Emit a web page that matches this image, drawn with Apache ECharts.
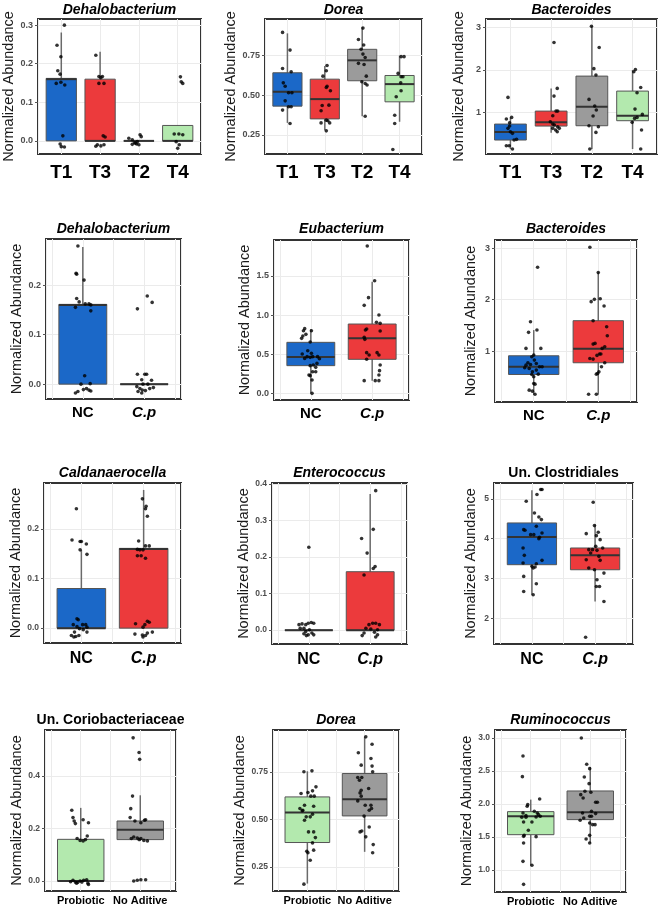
<!DOCTYPE html>
<html><head><meta charset="utf-8">
<script src="https://cdn.jsdelivr.net/npm/echarts@6/dist/echarts.min.js"></script>
<style>html,body{margin:0;padding:0;background:#fff}#c{width:666px;height:909px}</style>
</head><body><div id="c"></div><script>
// ---------------- DATA ----------------
// boxes: [lower whisker, Q1, median, Q3, upper whisker]; values: jittered points; jitter: horizontal offset (category units)
const p1Title = 'Dehalobacterium';
const p1Categories = ['T1','T3','T2','T4'];
const p1YTicks = ['0.0','0.1','0.2','0.3'];
const p1Boxes = [[0,0,0.160,0.162,0.281],[0,0,0,0.160,0.231],[0,0,0,0,0],[0,0,0,0.040,0.040]];
const p1Values = [
  [0.300,0.248,0.218,0.182,0.173,0.149,0.152,0.145,0.013,-0.008,-0.016,-0.015],
  [0.222,0.167,0.167,0.164,0.149,0.149,0.013,0.010,-0.010,-0.013,-0.010,-0.014],
  [0.007,0.003,-0.006,-0.002,0.016,0.011,-0.008,-0.010,-0.009,-0.004],
  [0.166,0.153,0.149,0.018,0.018,0.016,-0.002,-0.010,-0.019]];
const p1Jitter = [
  [.08,-.11,-.01,-.09,-.03,-.13,-.01,.09,.04,-.03,.08,0],
  [-.11,-.03,.06,.02,-.03,.10,.08,.13,-.07,.02,.10,-.11],
  [-.26,-.17,-.09,-.04,.03,.06,-.06,0,-.17,-.11],
  [.07,.09,.13,-.09,.03,.13,-.04,.04,0]];

const p2Title = 'Dorea';
const p2Categories = ['T1','T3','T2','T4'];
const p2YTicks = ['0.25','0.50','0.75'];
const p2Boxes = [[0.326,0.431,0.521,0.640,0.887],[0.280,0.351,0.475,0.600,0.682],[0.368,0.590,0.718,0.787,0.925],[0.333,0.458,0.569,0.623,0.747]];
const p2Values = [
  [0.893,0.782,0.667,0.646,0.577,0.556,0.515,0.515,0.464,0.427,0.427,0.406,0.322],
  [0.686,0.653,0.619,0.556,0.548,0.527,0.435,0.437,0.402,0.343,0.339,0.326,0.326,0.276],
  [0.920,0.849,0.814,0.787,0.757,0.736,0.699,0.692,0.619,0.584,0.573,0.563,0.368],
  [0.741,0.741,0.636,0.615,0.615,0.577,0.527,0.490,0.374,0.322,0.159]];
const p2Jitter = [
  [-.13,.07,-.13,.10,-.11,-.06,.03,.12,-.06,.03,.10,-.13,.07],
  [.06,.04,-.05,.06,.04,.15,-.07,.11,-.10,.04,.08,-.10,.13,.04],
  [.02,-.10,.04,-.03,.02,.08,-.10,.05,.11,-.01,.08,.13,.08],
  [.04,.12,-.04,.04,.09,.03,.04,-.09,-.13,-.13,-.18]];

const p3Title = 'Bacteroides';
const p3Categories = ['T1','T3','T2','T4'];
const p3YTicks = ['1','2','3'];
const p3Boxes = [[0.137,0.349,0.537,0.725,0.882],[0.520,0.678,0.765,1.031,1.560],[0.137,0.686,1.133,1.855,3.030],[0.137,0.804,0.922,1.502,1.996]];
const p3Values = [
  [1.353,0.843,0.882,0.757,0.678,0.624,0.545,0.506,0.365,0.349,0.216,0.216,0.137],
  [2.647,1.565,1.384,1.031,1.031,0.922,0.780,0.725,0.702,0.663,0.584,0.624,0.545,0.624],
  [3.030,2.530,2.030,1.880,1.306,1.149,1.055,0.914,0.686,0.663,0.529,0.137],
  [2.012,1.957,1.588,1.463,1.078,0.953,0.882,0.859,0.765,0.584,0.137]];
const p3Jitter = [
  [-.06,-.10,.03,-.02,-.02,-.06,0,.05,.15,.09,-.10,-.03,.05],
  [.07,.15,.07,.12,.16,.04,-.02,.04,.08,.16,.11,.20,.15,.04],
  [-.01,.18,.05,.10,-.07,.07,.11,.03,-.07,.16,.10,-.05],
  [.07,.03,.20,.11,.06,.24,.11,.05,-.01,.22,.20]];

const p4Title = 'Dehalobacterium';
const p4Categories = ['NC','C.p'];
const p4YTicks = ['0.0','0.1','0.2'];
const p4Boxes = [[0,0,0.160,0.161,0.277],[0,0,0,0,0]];
const p4Values = [
  [0.279,0.224,0.222,0.210,0.173,0.166,0.155,0.162,0.162,0.160,0.148,0.017,0.0,0.001,-0.009,-0.012,-0.011,-0.015,-0.018,-0.014],
  [0.178,0.165,0.152,0.020,0.020,0.020,0.009,0.008,0.0,0.0,-0.005,-0.009,-0.012,-0.013,-0.009,-0.007,-0.015,-0.018]];
const p4Jitter = [
  [-.08,-.11,-.10,.02,-.10,-.06,-.12,.04,.10,.13,.13,.03,-.03,.12,.06,.10,.01,-.08,-.12,.13],
  [.05,.13,-.11,-.11,.01,.04,-.04,.12,-.02,.06,-.12,-.07,-.03,.02,.09,.15,-.10,-.04]];

const p5Title = 'Eubacterium';
const p5Categories = ['NC','C.p'];
const p5YTicks = ['0.0','0.5','1.0','1.5'];
const p5Boxes = [[0.0,0.354,0.464,0.652,0.818],[0.162,0.435,0.703,0.886,1.427]];
const p5Values = [
  [0.827,0.801,0.801,0.733,0.754,0.703,0.656,0.545,0.503,0.511,0.469,0.460,0.469,0.469,0.443,0.447,0.383,0.362,0.354,0.332,0.277,0.277,0.234,0.226,0.170,0.0],
  [1.883,1.440,1.223,1.125,1.001,0.908,0.895,0.797,0.822,0.810,0.716,0.690,0.520,0.490,0.520,0.490,0.435,0.362,0.290,0.234,0.162,0.162,0.162]];
const p5Jitter = [
  [-.10,-.12,.01,-.13,-.08,-.15,-.01,-.05,-.14,.01,-.06,-.01,.03,.11,.14,-.10,.10,.04,-.01,.08,.08,.03,-.03,-.01,.02,.02],
  [-.08,.04,-.06,-.13,.11,.07,.13,.13,-.09,-.11,-.13,-.12,-.09,-.05,.08,.11,-.09,.13,.12,.11,-.13,.05,.11]];

const p6Title = 'Bacteroides';
const p6Categories = ['NC','C.p'];
const p6YTicks = ['1','2','3'];
const p6Boxes = [[0.156,0.545,0.695,0.909,1.409],[0.156,0.773,1.045,1.591,2.532]];
const p6Values = [
  [2.630,1.571,1.409,1.364,1.052,1.052,0.922,0.890,0.825,0.773,0.760,0.727,0.740,0.695,0.695,0.675,0.662,0.630,0.597,0.552,0.545,0.500,0.370,0.357,0.240,0.221,0.162],
  [3.020,2.526,2.006,1.961,2.019,1.877,1.591,1.474,1.299,1.136,1.149,1.084,1.052,0.942,0.916,0.942,0.857,0.844,0.773,0.695,0.597,0.552,0.565,0.162,0.162]];
const p6Jitter = [
  [.06,-.05,.05,-.08,-.12,.11,0,-.03,.01,-.09,.04,-.12,-.05,.09,.13,-.14,-.07,.04,-.02,.07,-.03,0,0,.02,-.07,-.02,.02],
  [-.13,0,-.06,-.11,.03,.09,-.08,.13,.14,-.08,-.05,.10,.06,.04,-.02,.02,-.13,-.08,.10,.05,.01,-.03,-.01,-.15,-.03]];

const p7Title = 'Caldanaerocella';
const p7Categories = ['NC','C.p'];
const p7YTicks = ['0.0','0.1','0.2'];
const p7Boxes = [[0,0,0,0.080,0.158],[0,0,0.160,0.161,0.279]];
const p7Values = [
  [0.241,0.178,0.175,0.175,0.170,0.158,0.149,0.019,0.017,0.007,0.007,0.007,0.003,0.002,-0.001,-0.003,-0.008,-0.008,-0.015,-0.017,-0.015,-0.018],
  [0.261,0.246,0.241,0.226,0.176,0.166,0.166,0.159,0.158,0.158,0.146,0.146,0.141,0.009,0.014,0.012,0.007,0.002,-0.008,-0.012,-0.010,-0.014,-0.015,-0.018]];
const p7Jitter = [
  [-.08,-.15,-.02,0,.08,-.02,.09,-.07,-.05,-.13,.02,.07,-.07,.09,-.03,.03,-.11,.09,-.16,-.09,-.04,-.12],
  [-.02,.04,.03,.06,-.08,.03,.09,-.10,-.06,-.01,-.10,-.04,.03,-.13,.06,.09,.02,-.01,.14,-.14,.06,-.02,.03,-.01]];

const p8Title = 'Enterococcus';
const p8Categories = ['NC','C.p'];
const p8YTicks = ['0.0','0.1','0.2','0.3','0.4'];
const p8Boxes = [[0,0,0,0,0],[0,0,0,0.160,0.373]];
const p8Values = [
  [0.227,0.017,0.019,0.021,0.019,0.015,0.015,0.005,0.005,0.001,-0.004,-0.008,-0.013,-0.013,-0.010,-0.015],
  [0.382,0.276,0.251,0.211,0.174,0.169,0.151,0.019,0.019,0.015,0.015,0.005,0.003,0.001,-0.008,-0.006,-0.013,-0.015,-0.019]];
const p8Jitter = [
  [0,-.11,-.01,.04,.08,-.05,-.16,-.14,-.08,.01,-.05,.05,-.01,.08,-.08,-.04],
  [.09,.05,-.14,-.05,.08,.05,-.10,.04,.09,.15,-.02,-.07,.01,.12,-.10,.07,.12,-.13,.09]];

const p9Title = 'Un. Clostridiales';
const p9Categories = ['NC','C.p'];
const p9YTicks = ['2','3','4','5'];
const p9Boxes = [[2.588,3.345,4.042,4.395,5.218],[2.420,3.218,3.580,3.765,4.353]];
const p9Values = [
  [5.235,5.235,4.941,5.109,4.647,4.546,4.479,4.311,4.227,4.210,4.101,4.101,4.143,4.034,4.000,3.765,3.580,3.454,3.387,3.370,3.303,3.286,3.261,3.050,2.866,2.672,2.588],
  [4.916,4.328,4.126,4.160,4.076,3.975,3.807,3.765,3.723,3.723,3.706,3.639,3.555,3.471,3.454,3.261,3.218,3.134,2.966,2.798,2.798,2.420,1.521]];
const p9Jitter = [
  [.14,.16,-.09,.08,.04,.11,.15,.07,-.13,-.11,-.02,.03,.16,.12,.11,-.14,-.12,.16,-.14,.07,0,.05,.02,-.13,.07,-.13,.02],
  [-.03,-.01,-.14,.05,.02,.08,.01,.12,-.10,-.04,.03,-.07,.06,-.14,.08,-.10,-.01,.14,.03,.02,.07,.14,-.15]];

const p10Title = 'Un. Coriobacteriaceae';
const p10Categories = ['Probiotic','No Aditive'];
const p10YTicks = ['0.0','0.2','0.4'];
const p10Boxes = [[0,0,0,0.159,0.279],[0.153,0.158,0.196,0.229,0.327]];
const p10Values = [
  [0.270,0.242,0.229,0.219,0.234,0.222,0.162,0.155,0.153,0.172,0.158,0.003,-0.004,-0.005,0,0.003,0.005,-0.008,-0.008,-0.004,-0.013,-0.003],
  [0.546,0.490,0.464,0.324,0.276,0.242,0.229,0.222,0.232,0.234,0.168,0.164,0.162,0.155,0.153,0.158,0.162,0,0.003,0.005,0.005]];
const p10Jitter = [
  [-.15,-.13,-.11,-.09,.04,.13,-.06,-.01,.04,.11,.08,-.13,-.09,-.05,-.01,.05,.10,.12,-.07,.02,.13,-.17],
  [-.12,-.02,-.01,-.13,-.16,-.17,-.09,.01,.07,.09,-.11,-.05,.01,.06,.12,-.02,-.15,-.11,-.05,.01,.09]];

const p11Title = 'Dorea';
const p11Categories = ['Probiotic','No Aditive'];
const p11YTicks = ['0.25','0.50','0.75'];
const p11Boxes = [[0.163,0.379,0.537,0.619,0.754],[0.330,0.519,0.607,0.742,0.935]];
const p11Values = [
  [0.751,0.756,0.672,0.651,0.637,0.642,0.623,0.623,0.575,0.570,0.558,0.549,0.546,0.528,0.514,0.514,0.496,0.435,0.435,0.405,0.377,0.333,0.325,0.339,0.286,0.160],
  [0.935,0.896,0.851,0.821,0.786,0.781,0.751,0.721,0.721,0.707,0.654,0.663,0.640,0.623,0.598,0.575,0.575,0.558,0.549,0.518,0.461,0.440,0.435,0.409,0.368,0.325]];
const p11Jitter = [
  [-.06,.08,.15,.09,-.11,.01,.06,.12,-.05,.11,-.13,-.08,-.09,.09,.05,-.02,-.05,.02,.11,.14,.09,-.01,.01,.11,.05,-.06],
  [.02,.13,-.11,.11,-.06,.13,.14,-.12,-.05,-.09,-.06,.07,-.08,-.06,-.12,.01,.11,.12,.08,-.01,.08,-.05,-.08,.02,.15,.14]];

const p12Title = 'Ruminococcus';
const p12Categories = ['Probiotic','No Aditive'];
const p12YTicks = ['1.0','1.5','2.0','2.5','3.0'];
const p12Boxes = [[1.071,1.535,1.813,1.884,2.066],[1.409,1.763,1.874,2.197,2.561]];
const p12Values = [
  [2.727,2.414,2.076,1.990,1.965,1.864,1.798,1.823,1.889,1.864,1.838,1.813,1.803,1.798,1.727,1.727,1.601,1.525,1.510,1.505,1.409,1.131,1.071,0.783],
  [3.000,2.601,2.535,2.409,2.308,2.192,2.177,2.141,2.091,2.025,2.025,1.864,1.889,1.854,1.753,1.813,1.813,1.788,1.712,1.687,1.687,1.470,1.409,1.525]];
const p12Jitter = [
  [-.13,-.14,.15,-.05,-.06,-.13,-.15,-.08,.06,.11,.13,.16,.09,-.08,-.12,.02,-.04,-.11,-.12,.09,-.12,-.13,.02,-.12],
  [-.15,-.06,-.01,-.10,-.02,-.09,.01,-.16,-.12,.09,.12,-.13,.02,.09,-.17,-.01,.02,-.11,-.01,.04,.08,-.07,-.01,-.01]];

const yAxisTitle = 'Normalized Abundance';
const italicTitles = ['Dehalobacterium','Dorea','Bacteroides','Eubacterium','Caldanaerocella','Enterococcus','Ruminococcus'];
const italicCategories = ['C.p'];

// ---------------- STYLE / LAYOUT ----------------
const FONT = '"Liberation Sans", Arial, Helvetica, sans-serif';
const categoryColors = {T1:'#1b68c8', T3:'#ec3a3c', T2:'#9b9b9b', T4:'#b3e9ae', NC:'#1b68c8', 'C.p':'#ec3a3c', Probiotic:'#b3e9ae', 'No Aditive':'#9b9b9b'};
const BOX_WIDTH = 0.78;
const rowStyle = [
  {xFont:19, xMargin:9, titleY:10.5, yFont:9, nameGap:20},
  {xFont:15, xMargin:6, titleY:229, yFont:9, nameGap:17},
  {xFont:16, xMargin:8, titleY:473, yFont:8.5, nameGap:16},
  {xFont:11, xMargin:4, titleY:720, yFont:8.5, nameGap:18}
];
const layout = [
  {row:0,left:38, top:19, width:163,height:135,yMin:-0.034,yMax:0.316},
  {row:0,left:265,top:19, width:157,height:135,yMin:0.131, yMax:0.977},
  {row:0,left:486,top:19, width:171,height:135,yMin:0.02,  yMax:3.2},
  {row:1,left:46, top:239,width:135,height:160,yMin:-0.03, yMax:0.293},
  {row:1,left:274,top:240,width:135,height:160,yMin:-0.085,yMax:1.96},
  {row:1,left:495,top:240,width:142,height:162,yMin:0.01,  yMax:3.16},
  {row:2,left:44, top:483,width:137,height:160,yMin:-0.03, yMax:0.293},
  {row:2,left:272,top:483,width:135,height:161,yMin:-0.038,yMax:0.403},
  {row:2,left:494,top:483,width:139,height:161,yMin:1.35,  yMax:5.4},
  {row:3,left:45, top:730,width:131,height:161,yMin:-0.038,yMax:0.576},
  {row:3,left:273,top:730,width:126,height:161,yMin:0.124, yMax:0.971},
  {row:3,left:495,top:730,width:131,height:162,yMin:0.667, yMax:3.12}
];

const panels = [
  {title:p1Title, cats:p1Categories, ticks:p1YTicks, boxes:p1Boxes, values:p1Values, jitter:p1Jitter},
  {title:p2Title, cats:p2Categories, ticks:p2YTicks, boxes:p2Boxes, values:p2Values, jitter:p2Jitter},
  {title:p3Title, cats:p3Categories, ticks:p3YTicks, boxes:p3Boxes, values:p3Values, jitter:p3Jitter},
  {title:p4Title, cats:p4Categories, ticks:p4YTicks, boxes:p4Boxes, values:p4Values, jitter:p4Jitter},
  {title:p5Title, cats:p5Categories, ticks:p5YTicks, boxes:p5Boxes, values:p5Values, jitter:p5Jitter},
  {title:p6Title, cats:p6Categories, ticks:p6YTicks, boxes:p6Boxes, values:p6Values, jitter:p6Jitter},
  {title:p7Title, cats:p7Categories, ticks:p7YTicks, boxes:p7Boxes, values:p7Values, jitter:p7Jitter},
  {title:p8Title, cats:p8Categories, ticks:p8YTicks, boxes:p8Boxes, values:p8Values, jitter:p8Jitter},
  {title:p9Title, cats:p9Categories, ticks:p9YTicks, boxes:p9Boxes, values:p9Values, jitter:p9Jitter},
  {title:p10Title, cats:p10Categories, ticks:p10YTicks, boxes:p10Boxes, values:p10Values, jitter:p10Jitter},
  {title:p11Title, cats:p11Categories, ticks:p11YTicks, boxes:p11Boxes, values:p11Values, jitter:p11Jitter},
  {title:p12Title, cats:p12Categories, ticks:p12YTicks, boxes:p12Boxes, values:p12Values, jitter:p12Jitter}
];

function renderBox(params, api) {
  const x = api.value(0);
  const pMin = api.coord([x, api.value(1)]);
  const pQ1 = api.coord([x, api.value(2)]);
  const pMed = api.coord([x, api.value(3)]);
  const pQ3 = api.coord([x, api.value(4)]);
  const pMax = api.coord([x, api.value(5)]);
  const half = api.size([BOX_WIDTH, 0])[0] / 2;
  const color = api.visual('color');
  return {type:'group', children:[
    {type:'line', shape:{x1:pMin[0], y1:pMin[1], x2:pMax[0], y2:pMax[1]}, style:{stroke:'#6a6a6a', lineWidth:1.5}},
    {type:'rect', shape:{x:pQ1[0]-half, y:pQ3[1], width:2*half, height:Math.max(0, pQ1[1]-pQ3[1])},
      style:{fill:color, stroke:'#555', lineWidth:1}},
    {type:'line', shape:{x1:pMed[0]-half, y1:pMed[1], x2:pMed[0]+half, y2:pMed[1]}, style:{stroke:'#333', lineWidth:2}}
  ]};
}

const grids = [], xAxes = [], yAxes = [], series = [], graphics = [];
panels.forEach((p, k) => {
  const L = layout[k], R = rowStyle[L.row], n = p.cats.length;
  const tickVals = p.ticks.map(Number);
  const catIdx = p.cats.map((c, i) => i);
  grids.push({left:L.left, top:L.top, width:L.width, height:L.height, show:true,
    borderColor:'#333', borderWidth:2, backgroundColor:'#fff'});
  const richBase = {fontFamily:FONT, fontWeight:'bold', fontSize:R.xFont, color:'#000'};
  xAxes.push({type:'value', gridIndex:k, position:'bottom', min:-0.6, max:n-0.4,
    axisLine:{show:false, onZero:false}, axisTick:{show:false},
    splitLine:{show:true, lineStyle:{color:'#ebebeb', width:1}},
    axisLabel:{customValues:catIdx, margin:R.xMargin,
      fontFamily:FONT, fontWeight:'bold', fontSize:R.xFont, color:'#000',
      formatter: v => { const i = Math.round(v); if (Math.abs(v-i) > 1e-6 || i < 0 || i >= n) return '';
        const c = p.cats[i]; return italicCategories.includes(c) ? '{i|' + c + '}' : '{n|' + c + '}'; },
      rich:{n:Object.assign({}, richBase), i:Object.assign({fontStyle:'italic'}, richBase)}}
  });
  yAxes.push({type:'value', gridIndex:k, position:'left', min:L.yMin, max:L.yMax,
    axisLine:{show:false, onZero:false}, axisTick:{show:true, length:3, customValues:tickVals, lineStyle:{color:'#555'}},
    splitLine:{show:true, lineStyle:{color:'#ebebeb', width:1}},
    axisLabel:{customValues:tickVals, margin:5, fontFamily:FONT, fontWeight:'bold',
      fontSize:R.yFont, color:'#4d4d4d',
      formatter: v => { const j = tickVals.findIndex(t => Math.abs(t - v) < 1e-6); return j >= 0 ? p.ticks[j] : ''; }},
    name:yAxisTitle, nameLocation:'middle', nameGap:R.nameGap,
    nameTextStyle:{fontFamily:FONT, fontSize:14.5, color:'#1a1a1a'}
  });
  series.push({type:'custom', xAxisIndex:k, yAxisIndex:k, z:2, silent:true, renderItem:renderBox,
    encode:{x:0, y:[1,2,3,4,5]},
    data:p.boxes.map((b, i) => ({value:[i].concat(b), itemStyle:{color:categoryColors[p.cats[i]]}}))});
  const pts = [];
  p.values.forEach((vals, i) => vals.forEach((v, j) => pts.push([i + p.jitter[i][j], v])));
  series.push({type:'scatter', xAxisIndex:k, yAxisIndex:k, z:3, silent:true, symbolSize:3.6,
    itemStyle:{color:'#000'}, data:pts});
  graphics.push({type:'text', x:L.left + L.width/2, y:R.titleY,
    style:{text:p.title, textAlign:'center', textVerticalAlign:'middle', fill:'#000',
      font:(italicTitles.includes(p.title) ? 'italic ' : '') + 'bold 14px ' + FONT}});
});

const chart = echarts.init(document.getElementById('c'), null, {renderer:'canvas'});
chart.setOption({animation:false, backgroundColor:'#fff', grid:grids, xAxis:xAxes, yAxis:yAxes, series:series, graphic:graphics});
</script></body></html>
